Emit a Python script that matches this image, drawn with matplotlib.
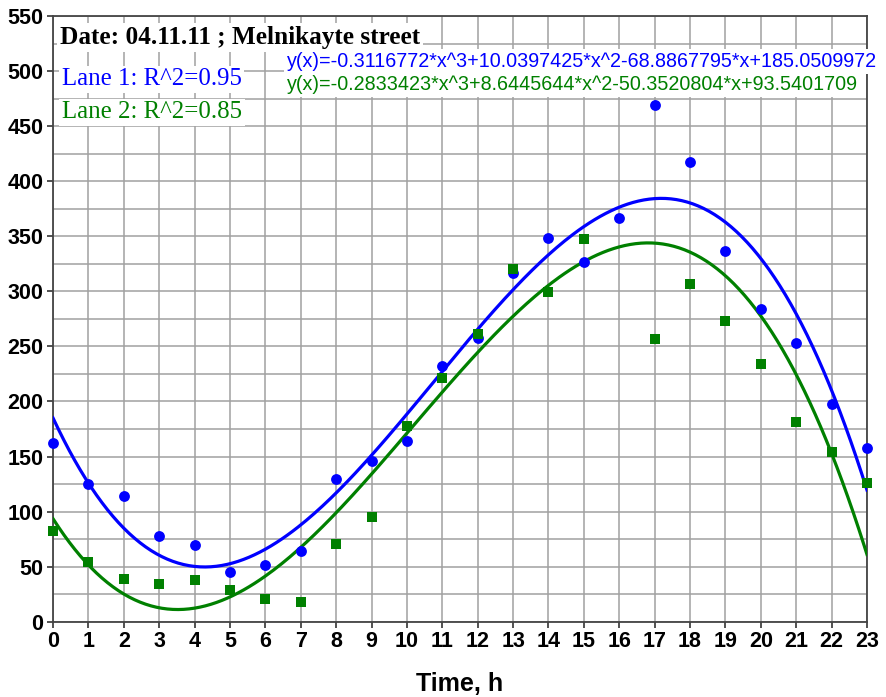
import numpy as np
import matplotlib
matplotlib.use("Agg")
import matplotlib.pyplot as plt
from matplotlib.ticker import MultipleLocator

# ---- data ----
hours = list(range(24))
lane1 = [162, 125, 114, 78, 70, 45, 51.5, 64, 130, 146, 164, 232.5,
         257.6, 317, 348.5, 327, 366.5, 468.8, 417, 336.7, 283.6, 253, 198, 157.6]
lane2 = [82, 54.5, 39, 34, 38, 29, 20.6, 17.6, 71, 95.5, 178, 221,
         261, 320, 299, 347.6, np.nan, 256.5, 306.7, 272.7, 234.3, 181, 154, 126]

# cubic trend coefficients printed on the chart
coef1 = [-0.3116772, 10.0397425, -68.8867795, 185.0509972]
coef2 = [-0.2833423, 8.6445644, -50.3520804, 93.5401709]

title_text = "Date: 04.11.11 ; Melnikayte street"
r2_labels = ["Lane 1: R^2=0.95", "Lane 2: R^2=0.85"]
eq_labels = ["y(x)=-0.3116772*x^3+10.0397425*x^2-68.8867795*x+185.0509972",
             "y(x)=-0.2833423*x^3+8.6445644*x^2-50.3520804*x+93.5401709"]

BLUE = "#0000FF"
GREEN = "#008000"

fig = plt.figure(figsize=(8.86, 6.97), dpi=100)
ax = fig.add_axes([53 / 886, 1 - 621.7 / 697, 814 / 886, 605.7 / 697])

xs = np.linspace(0, 23, 300)
ax.plot(xs, np.polyval(coef1, xs), color=BLUE, lw=2.3, zorder=3)
ax.plot(xs, np.polyval(coef2, xs), color=GREEN, lw=2.3, zorder=3)
ax.plot(hours, lane1, "o", color=BLUE, ms=7.8, mew=0, clip_on=False, zorder=4)
ax.plot(hours, lane2, "s", color=GREEN, ms=7.2, mew=0, clip_on=False, zorder=5)

ax.set_xlim(0, 23)
ax.set_ylim(0, 550)
ax.xaxis.set_major_locator(MultipleLocator(1))
ax.yaxis.set_major_locator(MultipleLocator(50))
ax.yaxis.set_minor_locator(MultipleLocator(25))
ax.grid(True, which="both", color="#a0a0a0", lw=1.1)
ax.tick_params(axis="y", which="minor", length=0)
ax.tick_params(which="major", length=4, width=1.2, color="#333333", pad=3)
ax.set_axisbelow(True)
for lab in ax.get_xticklabels() + ax.get_yticklabels():
    lab.set_fontfamily("Liberation Sans")
    lab.set_fontweight("bold")
    lab.set_fontsize(15.5)
for s in ax.spines.values():
    s.set_color("#444444")
    s.set_linewidth(1.3)

ax.set_xlabel("Time, h", fontfamily="Liberation Sans", fontweight="bold",
              fontsize=18, labelpad=14)

box = dict(facecolor="white", edgecolor="none", pad=2)
ax.text(0.2, 530.5, title_text, fontfamily="Liberation Serif", fontweight="bold",
        fontsize=18.2, va="center", ha="left", bbox=box, zorder=6)
ax.text(0.25, 492.5, r2_labels[0], fontfamily="Liberation Serif", color=BLUE,
        fontsize=17.9, va="center", ha="left", bbox=box, zorder=6)
ax.text(0.25, 462.5, r2_labels[1], fontfamily="Liberation Serif", color=GREEN,
        fontsize=17.9, va="center", ha="left", bbox=box, zorder=6)
ax.text(6.61, 508.8, eq_labels[0], fontfamily="Liberation Sans", color=BLUE,
        fontsize=14.2, va="center", ha="left", bbox=box, zorder=6)
ax.text(6.61, 487.9, eq_labels[1], fontfamily="Liberation Sans", color=GREEN,
        fontsize=14.2, va="center", ha="left", bbox=box, zorder=6)

fig.savefig("out.png", dpi=100)
